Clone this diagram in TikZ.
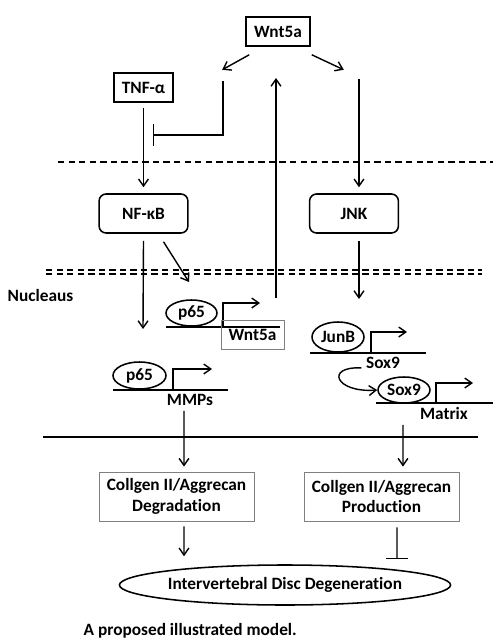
\documentclass[tikz,border=0pt]{standalone}
\usepackage{fontspec}
\setmainfont{Carlito}[Ligatures=NoCommon]
\usetikzlibrary{arrows.meta,positioning,calc,shapes.geometric}

\begin{document}
\begin{tikzpicture}[
		x=0.025cm, y=-0.025cm,
		>={Straight Barb[length=5pt,width=7pt]},
		font=\fontsize{12.3}{14.5}\selectfont\bfseries,
		line width=1pt,
		box/.style={draw, line width=1.1pt, inner sep=0pt, minimum width=1.6cm, minimum height=0.725cm},
		kinase/.style={draw, rounded corners=5pt, line width=1.1pt, inner sep=0pt, minimum width=2.22cm, minimum height=0.975cm},
		outcome/.style={draw=gray, line width=0.6pt, align=center, inner sep=0pt, minimum width=3.875cm, minimum height=1.225cm},
		tf/.style={draw, ellipse, line width=1.1pt, inner sep=0pt, minimum width=1.3cm, minimum height=0.65cm},
		genelabel/.style={inner sep=0pt},
		gene/.style={line width=1.2pt},
		inhibit/.style={-{Bar[width=15pt]}},
		membrane/.style={dashed, dash pattern=on 4.5pt off 3pt, line width=0.9pt}
		]
		\useasboundingbox (0,0) rectangle (493,641);
		
		% -------------------------
		% Ligands
		% -------------------------
		\node[box] (wnt) at (278,31.5) {Wnt5a};
		\node[box, minimum width=1.475cm] (tnf) at (143.5,87.5) {TNF-α};
		
		\draw[->] ($(wnt.south west)+(4,8)$) -- +(-27,15);
		\draw[->] ($(wnt.south east)+(1,8)$) -- +(32,15);
		
		\coordinate (blk) at (223,81);
		\coordinate (ret) at (276,78);
		\coordinate (jin) at (359,79);
		
		% -------------------------
		% Membranes
		% -------------------------
		\draw[membrane] (58,162) -- (493,162);
		\draw[membrane] (46,270) -- (482,270);
		\draw[membrane] (46,274) -- (482,274);
		\node[genelabel, anchor=west] (nuc) at (7,295) {Nucleaus};
		
		% -------------------------
		% Cytoplasm
		% -------------------------
		\node[kinase] (nfkb) at (143.5,213.5) {NF-κB};
		\node[kinase] (jnk) at (354,213.5) {JNK};
		
		\draw[->] ($(tnf.south)+(0,5)$) -- ($(nfkb.north)+(0,-6)$);
		\draw[inhibit] (blk) |- (153,135);
		\draw[->] (jin) -- ($(jnk.north)+(5,-6)$);
		
		% -------------------------
		% Nucleus: NF-kB branch
		% -------------------------
		\node[tf, minimum width=1.275cm] (p65a) at (191.5,313) {p65};
		\draw[gene] (166,326.7) -- (280,326.7);
		\draw[->] (223,326.7) |- (260,303);
		\node[genelabel, draw=gray, line width=0.6pt, minimum width=1.575cm, minimum height=0.725cm] (wntg) at (252.5,334.5) {Wnt5a};
		\coordinate (wntout) at (276,298);
		\draw[->] (wntout) -- (ret);
		
		\node[tf, minimum width=1.325cm, minimum height=0.675cm] (p65b) at (139.5,375.5) {p65};
		\draw[gene] (113,390) -- (228,390);
		\draw[->] (173,390) |- (212,369);
		\node[genelabel] (mmp) at (190,399.5) {MMPs};
		
		\draw[->] ($(nfkb.south)+(0,7)$) -- (143,329);
		\draw[->] ($(nfkb.south)+(20,8)$) -- (189,282);
		
		% -------------------------
		% Nucleus: JNK branch
		% -------------------------
		\node[tf, minimum height=0.75cm] (junb) at (338,337) {JunB};
		\draw[gene] (310,353) -- (426,353);
		\draw[->] (371,353) |- (407,332);
		\node[genelabel] (soxg) at (383,362.5) {Sox9};
		
		\node[tf] (sox) at (404,390) {Sox9};
		\draw[gene] (376,403) -- (493,403);
		\draw[->] (436,403) |- (473,383);
		\node[genelabel] (mtx) at (444,413) {Matrix};
		
		\draw[->] ($(jnk.south)+(5,7)$) -- (359,299);
		\draw[->] ($(soxg.south west)+(-4,-1)$) .. controls (325,366) and (335,393) .. (sox.west);
		
		% -------------------------
		% Cell membrane and outcomes
		% -------------------------
		\draw[line width=0.9pt] (43,437) -- (478,437);
		
		\node[outcome] (deg) at (176.5,496.5) {Collgen II/Aggrecan\\Degradation};
		\node[outcome] (prod) at (381.5,496.5) {Collgen II/Aggrecan\\Production};
		\node[draw, ellipse, line width=1.1pt, inner sep=0pt, minimum width=6.55cm, minimum height=1cm] (idd) at (285,585) {Intervertebral Disc Degeneration};
		
		\draw[->] ($(mmp.south)+(-6,5)$) -- ($(deg.north)+(7.5,-5)$);
		\draw[->] ($(mtx.south)+(-41,5)$) -- ($(prod.north)+(21.5,-5)$);
		\draw[->] ($(deg.south)+(7.5,5)$) -- ($(idd.north)+(-101,-8)$);
		\draw[inhibit] ($(prod.south)+(15.5,6)$) -- ($(idd.north)+(112,-5)$);
		
		\node[genelabel, anchor=west] (cap) at (83,631) {A proposed illustrated model.};
		
	\end{tikzpicture}
\end{document}
